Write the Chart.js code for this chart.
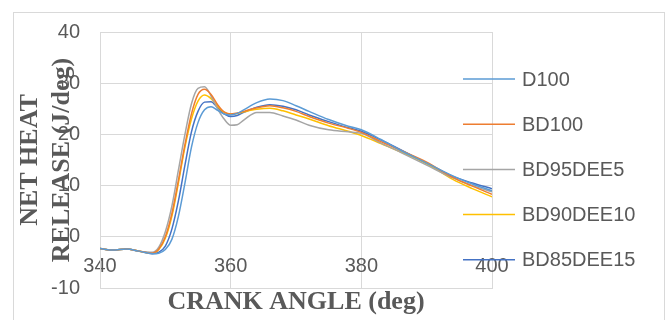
<!DOCTYPE html>
<html>
<head>
<meta charset="utf-8">
<script src="https://cdn.jsdelivr.net/npm/chart.js@4/dist/chart.umd.min.js"></script>
<style>
html,body{margin:0;padding:0;background:#fff;}
#wrap{width:668px;height:320px;}
</style>
</head>
<body>
<div id="wrap"><canvas id="c" width="668" height="320"></canvas></div>
<script>
const angles = [340,342,344,346,348,349,350,351,352,353,354,355,356,357,358,359,360,361,362,364,366,368,370,372,375,378,380,383,386,390,394,397,400];
const seriesNames = ['D100','BD100','BD95DEE5','BD90DEE10','BD85DEE15'];
const D100      = [-2.3,-2.6,-2.4,-2.8,-3.3,-3.2,-2.5,-0.5,4,10.5,17.5,22.3,24.8,25.4,24.7,24.0,23.8,24.1,24.8,26.2,26.9,26.6,25.6,24.5,22.9,21.6,20.9,19,16.9,14.4,11.9,10.3,9.0];
const BD100     = [-2.3,-2.6,-2.4,-2.8,-3.2,-2.4,0,4.5,11,18,24,27.8,28.8,27.8,25.8,24.4,24,24.2,24.5,25.2,25.6,25.2,24.5,23.5,22.2,21.2,20.4,18.6,16.9,14.6,11.6,9.9,8.3];
const BD95DEE5  = [-2.3,-2.6,-2.4,-2.8,-3.0,-2.0,1.0,6,13,20,26,29,29.3,27.5,25,23,21.8,21.9,22.8,24.3,24.3,23.6,22.8,21.8,20.9,20.5,20.2,18.3,16.5,14,11.5,10,8.8];
const BD90DEE10 = [-2.3,-2.6,-2.4,-2.8,-3.2,-2.5,-0.3,4,10.5,17.5,23,26.5,27.7,27,25.5,24.3,24,24.1,24.4,24.9,25.1,24.6,23.8,23,21.7,20.6,19.8,18.2,16.6,14.3,11.2,9.4,7.8];
const BD85DEE15 = [-2.3,-2.6,-2.4,-2.8,-3.3,-3.0,-1.8,1.5,7,14,20.5,24.5,26.3,26.4,25.2,24,23.5,23.7,24.3,25.3,25.8,25.5,24.8,23.8,22.5,21.3,20.6,18.9,17,14.3,11.8,10.5,9.4];
const xTicks = [340,360,380,400];
const yTicks = [-10,0,10,20,30,40];
const colors = ['#5B9BD5','#ED7D31','#A5A5A5','#FFC000','#4472C4'];
const allSeries = [D100,BD100,BD95DEE5,BD90DEE10,BD85DEE15];

const datasets = allSeries.map((vals,i)=>({
  label: seriesNames[i],
  data: angles.map((a,j)=>({x:a,y:vals[j]})),
  borderColor: colors[i],
  borderWidth: 1.5,
  pointRadius: 0,
  fill: false,
  cubicInterpolationMode: 'monotone'
}));

const frame = {
  id:'frame',
  beforeDraw(chart){
    const ctx = chart.ctx;
    ctx.save();
    ctx.fillStyle = '#fff';
    ctx.fillRect(0,0,chart.width,chart.height);
    ctx.strokeStyle = '#d9d9d9';
    ctx.lineWidth = 1;
    ctx.strokeRect(13.5,12.5,651,400);
    ctx.restore();
  }
};
const customLegend = {
  id:'customLegend',
  afterDraw(chart){
    const ctx = chart.ctx;
    ctx.save();
    ctx.font = '20px "Liberation Sans", Arial, sans-serif';
    ctx.textBaseline = 'middle';
    ctx.textAlign = 'left';
    chart.data.datasets.forEach((ds,i)=>{
      const y = 79 + i*45.2;
      ctx.strokeStyle = ds.borderColor;
      ctx.lineWidth = 1.5;
      ctx.beginPath();
      ctx.moveTo(463,y);
      ctx.lineTo(515,y);
      ctx.stroke();
      ctx.fillStyle = '#595959';
      ctx.fillText(ds.label,522,y+1);
    });
    ctx.restore();
  }
};

new Chart(document.getElementById('c'),{
  type:'line',
  data:{datasets},
  plugins:[frame,customLegend],
  options:{
    responsive:false,
    animation:false,
    layout:{padding:{left:13,top:27,right:176,bottom:0}},
    plugins:{legend:{display:false},tooltip:{enabled:false}},
    scales:{
      x:{
        type:'linear',
        min:340,max:400,
        afterBuildTicks(s){ s.ticks = xTicks.map(v=>({value:v})); },
        afterFit(s){ s.height = 32; },
        grid:{color:'#d9d9d9',drawTicks:false},
        border:{color:'#d9d9d9'},
        ticks:{mirror:true,padding:10,maxRotation:0,autoSkip:false,color:'#595959',font:{family:'"Liberation Sans", Arial, sans-serif',size:20}},
        title:{display:true,text:'CRANK ANGLE (deg)',color:'#595959',padding:{top:0,bottom:2},font:{family:'"Liberation Serif", "Times New Roman", serif',size:26,weight:'bold',lineHeight:1.2}}
      },
      y:{
        min:-10,max:40,
        afterBuildTicks(s){ s.ticks = yTicks.map(v=>({value:v})); },
        afterFit(s){ s.width = 87; },
        grid:{color:'#d9d9d9',drawTicks:false},
        border:{color:'#d9d9d9'},
        ticks:{padding:20,color:'#595959',font:{family:'"Liberation Sans", Arial, sans-serif',size:20}},
        title:{display:true,text:['NET HEAT','RELEASE (J/deg)'],color:'#595959',padding:{top:1,bottom:0},font:{family:'"Liberation Serif", "Times New Roman", serif',size:26,weight:'bold',lineHeight:1.23}}
      }
    }
  }
});
</script>
</body>
</html>
